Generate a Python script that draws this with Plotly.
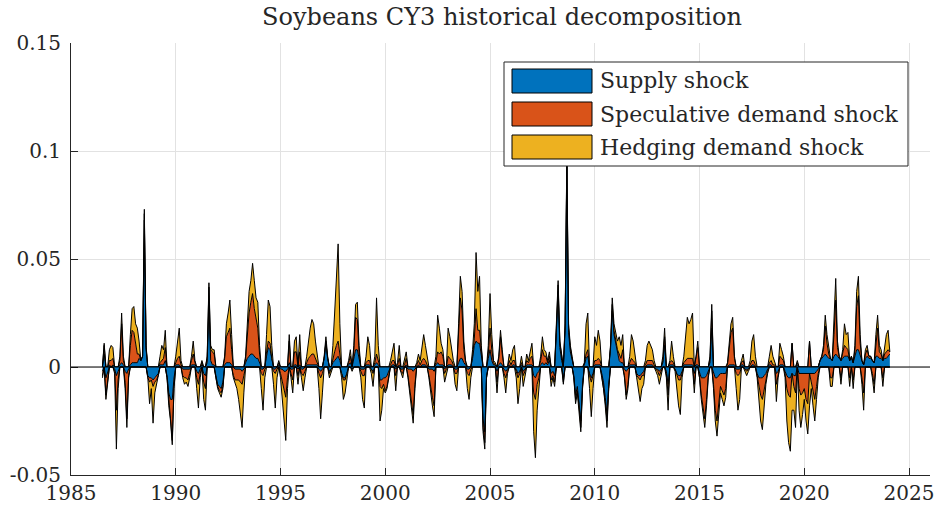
import numpy as np
import pandas as pd
import plotly.graph_objects as go

# Monthly contributions to soybean CY3 returns, starting July 1986,
# stored in thousandths (0.001) and converted below.
start_month = "1986-07"

supply = [
    -2, 6, -5, -2, 1, 0, 1, -1, -4, -2, 1, 2,
    1, -2, -3, -1, 1, 2, 2, 2, 2, 4, 3, 5,
    68, 8, -4, -5, -5, -6, -5, -4, -3, 1, 1, 1,
    3, -4, -12, -15, -15, -5, 1, 1, 1, 0, -1, -1,
    -1, -1, -1, 1, 1, 1, -2, -3, -1, 1, -3, -4,
    2, 30, 3, 1, 1, -4, -8, -9, -10, -7, 1, 2,
    2, 2, 1, 0, -1, -1, -1, -1, -2, -1, 2, 4,
    5, 6, 6, 5, 4, 4, 2, -1, -1, 0, 5, 9,
    8, 3, -1, -1, 0, 1, -1, -1, -2, -2, -1, 2,
    -1, -1, 1, 1, -1, 1, -1, -1, 0, 1, 1, 1,
    1, 1, 1, 1, -1, -2, -1, 4, 11, 4, -2, -1,
    2, 3, 4, 5, 3, -3, -5, -5, -3, 1, 2, -1,
    4, 8, 8, 3, -1, -1, -1, 1, 1, 1, -1, -2,
    1, 2, 1, -6, -6, -5, -5, -4, -2, 0, 1, 1,
    -1, 0, 1, -1, -1, 0, 1, -1, -1, -1, -2, -1,
    0, 1, 0, 1, 1, 1, 0, -1, -1, -1, -2, 1,
    2, 1, 1, 1, -1, 0, 1, 1, 1, 0, -1, -1,
    2, 4, 4, 2, 1, -1, -1, 0, 4, 10, 12, 11,
    11, 6, -24, -30, -4, 4, 8, 3, 1, 1, -2, 1,
    2, 1, -1, -2, -1, 1, 0, 1, 1, -1, -3, -2,
    1, -2, -1, 1, 1, 1, 1, -4, -5, -3, -2, 1,
    2, 1, 2, 1, 3, -3, -2, -4, 16, 35, 9, 3,
    -5, 17, 93, 16, 7, 3, -4, -13, -9, -16, -25, -8,
    1, 4, 5, -3, -5, -3, 1, 1, 1, 1, -3, -7,
    -14, -22, -8, 8, 26, 15, 11, 6, 3, 2, 2, -1,
    -2, -1, 1, 1, 1, 1, -3, -4, -4, -3, -2, 0,
    1, 1, 1, 1, 0, -1, -1, -2, -1, 2, 10, -2,
    -8, 1, 1, 1, -1, -3, -4, -4, -2, 1, 1, 1,
    1, 1, 1, -3, 1, 1, -3, -5, -5, -5, -4, -2,
    2, 18, -3, -5, -5, -4, -3, -3, -3, -3, 0, 1,
    1, 1, 1, -1, -1, -1, 1, 1, -1, -1, -1, 0,
    1, 1, 0, -3, -5, -5, -5, -4, -3, -1, 1, 1,
    0, 0, -3, -2, 1, 1, 1, -2, -4, -5, -5, -3,
    -4, -4, 1, -3, -3, -3, -3, -3, -3, -3, -3, -3,
    -3, -2, -1, 3, 4, 5, 6, 5, 4, 4, 3, 5,
    6, 5, 4, 3, 4, 5, 5, 5, 3, 4, 2, 5,
    8, 8, 5, 3, 1, 4, 5, 4, 4, 3, 2, 5,
    5, 4, 4, 3, 4, 4, 5, 6,
]

speculative = [
    -2, 4, -8, -4, 2, 3, 3, -1, -16, -4, 2, 18,
    2, -5, -21, -3, 9, 15, 14, 8, 4, 2, 0, 0,
    3, 1, -1, -2, -1, -3, -2, -2, -1, 1, 2, 3,
    6, -1, -5, -9, -19, -4, 1, 3, 4, 1, -3, -4,
    -4, -5, -2, 2, 5, 1, -3, -5, -2, 1, -4, -6,
    2, 7, 5, 6, 5, -1, -1, -2, -2, -2, 3, 12,
    14, 16, 7, -4, -5, -5, -5, -6, -6, -3, 2, 10,
    20, 24, 28, 22, 18, 14, 4, -2, -3, -1, 2, 3,
    3, 1, -1, -2, -1, 1, -2, -6, -9, -12, -4, 10,
    -2, -5, 6, 6, -3, 6, -2, -3, -2, 1, 3, 4,
    5, 5, 3, 1, -2, -3, -2, 0, 1, 0, -1, 0,
    2, 4, 6, 7, 3, 0, -1, -1, 0, 1, 3, 0,
    4, 15, 14, 4, -1, -3, -3, 1, 2, 2, 0, -1,
    1, 4, 2, -3, -4, -3, -6, -5, -2, 1, 2, 2,
    -3, 1, 3, -1, -2, 1, 3, -3, -9, -14, -20, -7,
    1, 2, 1, 2, 3, 2, 1, -3, -9, -13, -16, 1,
    5, 5, 6, 4, -2, -1, 4, 3, 2, 1, -2, -2,
    12, 28, 22, 6, 1, -2, -3, -1, 1, 3, 15, 6,
    6, 1, -4, -5, -1, 2, 10, 5, 1, 0, -5, 3,
    12, 5, -2, -3, -1, 2, 1, 2, 2, -1, -2, -1,
    1, -2, -1, 2, 1, 3, 4, -8, -10, -5, -3, 2,
    6, 4, 3, 1, 2, -3, -2, -3, 2, 3, 2, 1,
    -2, 2, 3, 2, 2, 1, -1, -2, -2, -2, -3, -1,
    0, 2, 3, -1, -2, -1, 2, 2, 3, 2, -1, -2,
    -2, -3, -1, 1, 3, 2, 2, 2, 3, 2, 6, -3,
    -11, -7, 1, 3, 2, 1, -1, -1, -2, -1, -2, 1,
    2, 2, 2, 2, 1, 0, -1, -2, -1, 1, 4, -1,
    -5, 1, 2, 1, 0, -1, -2, -2, -1, 1, 2, 3,
    3, 3, 3, -5, 3, 8, -2, -8, -14, -19, -11, -2,
    2, 8, -5, -15, -20, -12, -6, -8, -10, -7, 1, 7,
    15, 17, 3, -2, -3, -2, 1, 2, 0, -1, 0, 1,
    2, 2, 1, -1, -4, -8, -10, -6, -2, -1, 1, 2,
    1, 1, -5, -1, 4, 3, 2, -1, -6, -8, -9, 11,
    -5, -8, 1, -7, -10, -9, -7, -12, -14, 12, -4, -9,
    -12, -7, -2, 0, 1, 3, 13, 6, 2, -5, -5, 10,
    25, 4, 1, -5, 2, 5, 4, 3, -5, 1, -6, 3,
    20, 25, 6, -5, -12, 2, 3, 1, 1, -3, -8, 7,
    13, 3, 2, -5, 2, 3, 3, 1,
]

hedging = [
    -1, 1, -2, -2, 5, 7, 5, -1, -18, -4, 2, 5,
    2, -3, -4, -1, 5, 10, 12, 10, 12, 6, 0, 0,
    2, 1, 0, -10, -4, -17, -5, -2, -1, 3, 7, 4,
    8, 0, -1, -1, -2, -1, 3, 8, 13, 2, -1, -3,
    -2, -3, -2, 2, 6, 1, -5, -11, -2, 1, -8, -10,
    1, 2, 2, 1, 2, 0, -1, -1, -2, -1, 1, 6,
    9, 13, 7, -1, -2, -4, -9, -15, -20, -8, 1, 6,
    10, 10, 14, 13, 10, 12, 4, -7, -16, -4, 8, 19,
    17, 6, -6, -16, -4, 1, -2, -8, -14, -20, -5, 3,
    -2, -6, 5, 7, -4, 8, -2, -7, -3, 3, 8, 13,
    16, 14, 8, 3, -7, -19, -9, 1, 2, 1, -2, -1,
    6, 18, 30, 45, 14, -2, -9, -6, -2, 1, 3, -1,
    2, 6, 8, 3, -3, -11, -15, 3, 11, 7, -2, -6,
    3, 26, 7, -16, -10, -2, -1, -1, -1, 2, 5, 8,
    -7, 1, 6, -1, -2, 2, 3, -1, -2, -3, -4, -2,
    1, 3, 2, 7, 11, 7, 4, -1, -2, -4, -5, 3,
    17, 12, 4, 3, -4, -2, 13, 10, 5, 2, -5, -8,
    6, 10, 9, 4, 1, -7, -11, -4, 3, 7, 26, 18,
    25, 3, -2, -3, 0, 4, 16, 7, 1, 1, -5, 1,
    3, 2, -2, -7, -1, 3, 2, 5, 7, -3, -12, -7,
    3, -5, -3, 3, 1, 4, 6, -18, -27, -12, -5, 2,
    6, 3, 2, 1, 2, -3, -1, -2, 2, 2, 1, 1,
    -1, 1, 2, 2, 1, 1, 0, -2, -1, -2, -2, -1,
    1, 14, 17, -6, -16, -6, 11, 7, 13, 9, -1, -1,
    -2, -3, -1, 1, 3, 3, 2, 4, 8, 6, 7, -1,
    -2, -2, 3, 11, 9, 3, -1, -5, -10, -6, -4, 2,
    7, 9, 7, 5, 2, -1, -2, -4, -1, 2, 4, -2,
    -7, 1, 9, 3, -1, -6, -12, -16, -2, 3, 12, 19,
    16, 18, 21, -4, 1, 3, 0, -2, -3, -4, -3, -1,
    1, 3, -2, -5, -7, -4, -3, -4, -5, -4, 1, 2,
    4, 5, 1, -7, -16, -12, 1, 3, -1, -2, -1, 2,
    9, 12, 4, -1, -6, -12, -14, -8, -3, -1, 3, 7,
    4, 1, -8, -2, 6, 4, 2, -2, -15, -22, -25, -17,
    -11, -16, 1, -10, -15, -10, -5, -10, -14, -15, -3, -6,
    -10, -6, -2, 0, 0, 2, 5, 4, 2, -4, -4, 5,
    10, 3, 0, -3, 2, 10, 6, 8, -4, 0, -4, 2,
    7, 9, 4, -3, -8, 2, 2, 0, 0, -2, -4, 3,
    6, 3, 2, -4, 4, 8, 9, 0,
]

series_names = ["Supply shock", "Speculative demand shock", "Hedging demand shock"]
series_colors = ["#0072BD", "#D95319", "#EDB120"]
x_ticks = [1985, 1990, 1995, 2000, 2005, 2010, 2015, 2020, 2025]
y_ticks = [-0.05, 0, 0.05, 0.1, 0.15]
y_tick_text = ["-0.05", "0", "0.05", "0.1", "0.15"]

months = pd.period_range(start_month, periods=len(supply), freq="M")
t = np.asarray(months.year + (months.month - 1) / 12.0, dtype=float)

W, H = 936, 508
L, R, T, B = 71, 6, 43, 33
FONT = "DejaVu Serif"
INK = "#262626"

fig = go.Figure()

# positive and negative parts are stacked separately, away from zero
for group, part in (("pos", lambda v: np.clip(v, 0, None)),
                    ("neg", lambda v: np.clip(v, None, 0))):
    for name, vals, color in zip(series_names, (supply, speculative, hedging), series_colors):
        v = np.asarray(vals, dtype=float) / 1000.0
        fig.add_trace(go.Scatter(
            x=t, y=part(v), stackgroup=group, mode="lines",
            line=dict(color="black", width=1),
            fillcolor=color, name=name, showlegend=False, hoverinfo="skip",
        ))

axis_common = dict(
    ticks="inside", ticklen=7, tickcolor=INK, tickwidth=1,
    showline=True, linecolor=INK, linewidth=1,
    showgrid=True, gridcolor="#e2e2e2", gridwidth=1,
    zeroline=False, automargin=False,
    tickfont=dict(family=FONT, size=20, color=INK),
)
fig.update_xaxes(range=[1985, 2026], tickvals=x_ticks, ticklabelstandoff=0, **axis_common)
fig.update_yaxes(range=[-0.05, 0.15], tickvals=y_ticks, ticktext=y_tick_text,
                 ticklabelstandoff=5, **axis_common)


def px_x(px):
    return (px - L) / (W - L - R)


def px_y(py):
    return (H - B - py) / (H - T - B)


shapes = [
    dict(type="line", xref="x", yref="y", x0=1985, x1=2026, y0=0, y1=0,
         line=dict(color="black", width=1), layer="above"),
    dict(type="rect", xref="paper", yref="paper",
         x0=px_x(504), x1=px_x(908), y0=px_y(166), y1=px_y(62),
         fillcolor="white", line=dict(color=INK, width=1), layer="above"),
]
annotations = []
for i, (name, color) in enumerate(zip(series_names, series_colors)):
    top = 69 + 33 * i
    shapes.append(dict(type="rect", xref="paper", yref="paper",
                       x0=px_x(512), x1=px_x(592), y0=px_y(top + 24), y1=px_y(top),
                       fillcolor=color, line=dict(color="black", width=1), layer="above"))
    annotations.append(dict(x=px_x(598), y=px_y(top + 12), xref="paper", yref="paper",
                            text=name, showarrow=False, xanchor="left", yanchor="middle",
                            font=dict(family=FONT, size=22, color=INK)))

fig.update_layout(
    width=W, height=H,
    margin=dict(l=L, r=R, t=T, b=B),
    paper_bgcolor="white", plot_bgcolor="white",
    showlegend=False,
    title=dict(text="Soybeans CY3 historical decomposition", x=px_x(502), xref="paper",
               xanchor="center", y=1 - 17 / H, yref="container", yanchor="middle",
               automargin=False,
               font=dict(family=FONT, size=24, color=INK)),
    shapes=shapes, annotations=annotations,
)

fig.write_html("out.html")
